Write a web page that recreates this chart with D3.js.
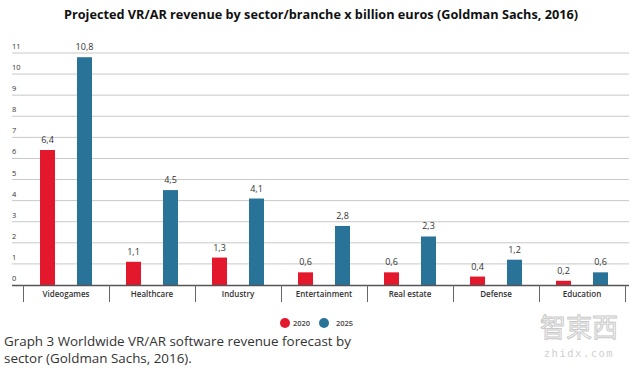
<!DOCTYPE html>
<html><head><meta charset="utf-8">
<script src="https://cdn.jsdelivr.net/npm/d3@7"></script>
<style>body{margin:0;background:#fff}svg{display:block}</style>
</head><body><svg id="c" width="640" height="369"></svg>
<script>
const categories = ["Videogames","Healthcare","Industry","Entertainment","Real estate","Defense","Education"];
const series2020 = [6.4,1.1,1.3,0.6,0.6,0.4,0.2];
const series2025 = [10.8,4.5,4.1,2.8,2.3,1.2,0.6];
const seriesNames = ["2020","2025"];
const yTicks = [0,1,2,3,4,5,6,7,8,9,10,11];
const colors = ["#e3182d","#2a7398"];
const fmt = v => String(v.toFixed(1)).replace(".", ",");

const svg = d3.select("#c");
const x = d3.scaleBand().domain(categories).range([23,625]).padding(0);
const y = d3.scaleLinear().domain([0,11]).range([285,53]);

svg.append("text").attr("x",321).attr("y",19).attr("text-anchor","middle")
  .attr("font-family","Open Sans").attr("font-weight","bold").attr("font-size",12.7).attr("fill","#111")
  .text("Projected VR/AR revenue by sector/branche x billion euros (Goldman Sachs, 2016)");

// grid
const g = svg.append("g");
g.selectAll("line.grid").data(yTicks.filter(d=>d>0)).join("line")
  .attr("x1",12).attr("x2",629).attr("y1",d=>y(d)).attr("y2",d=>y(d))
  .attr("stroke","#c8c8c8").attr("stroke-width",1);
g.selectAll("text.yt").data(yTicks).join("text")
  .attr("x",12).attr("y",d=>y(d)-4).attr("font-family","Open Sans").attr("font-size",7.5).attr("fill","#333")
  .text(d=>d);

// bars
const data = [series2020, series2025];
data.forEach((vals,si)=>{
  const bw = 15;
  const off = si===0 ? -18.5 : 18.5;
  svg.append("g").selectAll("rect").data(categories).join("rect")
    .attr("x",(c)=>x(c)+x.bandwidth()/2+off-bw/2).attr("width",bw)
    .attr("y",(c,i)=>y(vals[i])).attr("height",(c,i)=>y(0)-y(vals[i]))
    .attr("fill",colors[si]);
  svg.append("g").selectAll("text").data(categories).join("text")
    .attr("x",(c)=>x(c)+x.bandwidth()/2+off).attr("y",(c,i)=>y(vals[i])-7)
    .attr("text-anchor","middle").attr("font-family","Open Sans").attr("font-size",9).attr("fill","#333")
    .text((c,i)=>fmt(vals[i]));
});

// axis baseline and separators
svg.append("line").attr("x1",12).attr("x2",629).attr("y1",285.5).attr("y2",285.5).attr("stroke","#555").attr("stroke-width",1.5);
const seps = categories.map(c=>x(c)).concat([x.range()[1]]);
svg.append("g").selectAll("line").data(seps).join("line")
  .attr("x1",d=>Math.round(d)+0.5).attr("x2",d=>Math.round(d)+0.5).attr("y1",285).attr("y2",302)
  .attr("stroke","#666").attr("stroke-width",1);
svg.append("g").selectAll("text").data(categories).join("text")
  .attr("x",c=>x(c)+x.bandwidth()/2).attr("y",297).attr("text-anchor","middle")
  .attr("font-family","Open Sans").attr("font-weight","600").attr("font-size",8).attr("fill","#333")
  .text(c=>c);

// legend
const leg = [{n:seriesNames[0],cx:285,tx:293},{n:seriesNames[1],cx:324,tx:336}];
leg.forEach((l,i)=>{
  svg.append("circle").attr("cx",l.cx).attr("cy",323).attr("r",5).attr("fill",colors[i]);
  svg.append("text").attr("x",l.tx).attr("y",326).attr("font-family","Open Sans").attr("font-weight","600")
    .attr("font-size",7.5).attr("fill","#444").text(l.n);
});

// caption
svg.append("text").attr("x",4).attr("y",346).attr("font-family","Open Sans").attr("font-size",13.4).attr("fill","#333")
  .text("Graph 3 Worldwide VR/AR software revenue forecast by");
svg.append("text").attr("x",4).attr("y",363).attr("font-family","Open Sans").attr("font-size",13.4).attr("fill","#333")
  .text("sector (Goldman Sachs, 2016).");

// watermark
svg.append("text").attr("x",579).attr("y",337).attr("text-anchor","middle").attr("font-family","Noto Sans CJK SC")
  .attr("font-size",26).attr("fill","#fff").attr("stroke","#c9c9c9").attr("stroke-width",1).text("智東西");
svg.append("text").attr("x",579).attr("y",357).attr("text-anchor","middle").attr("font-family","DejaVu Sans Mono")
  .attr("font-size",10.5).attr("letter-spacing",1.5).attr("fill","#d0d0d0").text("zhidx.com");
</script></body></html>
